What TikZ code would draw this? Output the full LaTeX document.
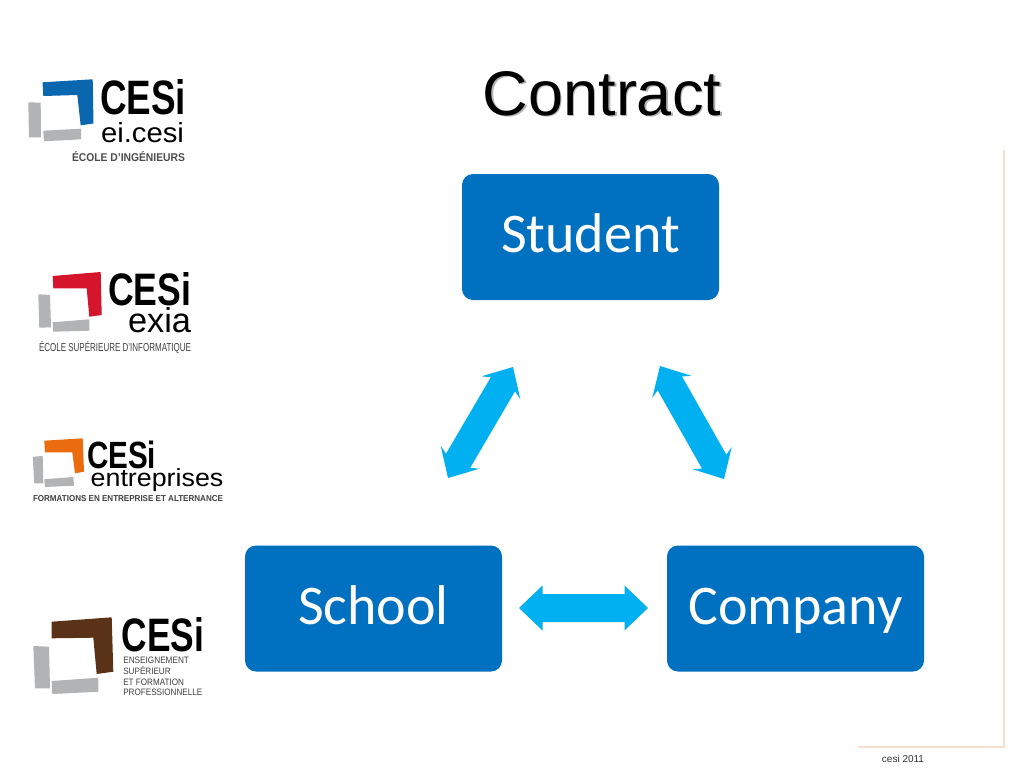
\documentclass[tikz,border=0pt]{standalone}
\usepackage{fontspec}
\usepackage{graphicx}
\setmainfont{Liberation Sans}
\newfontfamily\boxfont{Carlito}
\usetikzlibrary{calc}
\definecolor{boxblue}{HTML}{0070C0}
\definecolor{arrowblue}{HTML}{00B0F0}
\definecolor{framepeach}{HTML}{F8DFCB}
\definecolor{logogray}{HTML}{B2B3B5}
\definecolor{logoblue}{HTML}{0A66AE}
\definecolor{logored}{HTML}{D5152B}
\definecolor{logoorange}{HTML}{EA6C0F}
\definecolor{logobrown}{HTML}{5A3217}
\tikzset{
  x=1pt,y=-1pt,
  bigbox/.style={fill=boxblue,rounded corners=11pt,minimum width=257pt,minimum height=126pt,
    inner sep=0pt,text=white,text height=39.5pt,text depth=8pt,font=\boxfont\fontsize{56}{60}\selectfont},
  titletext/.style={font=\fontsize{63}{70}\selectfont,inner sep=0pt,anchor=base},
  footertext/.style={font=\fontsize{10}{12}\selectfont,inner sep=0pt,text=black!80},
  logotext/.style={anchor=base west,inner sep=0pt,outer sep=0pt},
  graypiece/.style={fill=logogray},
  bidiarrow/.style={fill=arrowblue},
  frameline/.style={draw=framepeach,line width=1.6pt}
}
% \bidi{from}{to}{barb distance}{neck distance}
\newcommand{\bidi}[4]{%
  \path let \p1=($(#2)-(#1)$),\n1={atan2(\y1,\x1)},\n2={veclen(\x1,\y1)} in
    [shift={(#1)},rotate=\n1,bidiarrow]
    (0pt,0pt) -- (#3pt,22.5pt) -- (#4pt,14pt) -- (\n2-#4pt,14pt) -- (\n2-#3pt,22.5pt)
    -- (\n2,0pt) -- (\n2-#3pt,-22.5pt) -- (\n2-#4pt,-14pt) -- (#4pt,-14pt) -- (#3pt,-22.5pt) -- cycle;%
}
% \ltxt{name}{x}{baseline}{width}{height}{font}{text}
\newcommand{\ltxt}[7]{%
  \node[logotext] (#1) at (#2,#3) {\resizebox{#4pt}{#5pt}{#6#7}};%
}
\begin{document}
\begin{tikzpicture}
\useasboundingbox (0,0) rectangle (1024,768);
\fill[white] (0,0) rectangle (1024,768);

% frame
\coordinate (frameTop) at (1004,150);
\coordinate (frameCorner) at (1004,747);
\coordinate (frameEnd) at (858,747);
\draw[frameline] (frameTop) -- (frameCorner) -- (frameEnd);
\node[footertext] (footer) at (903,759) {cesi 2011};

% title
\node[titletext,text=black!30] (titleShadow) at (603.5,116.5) {Contract};
\node[titletext] (title) at (602,115) {Contract};

% boxes
\node[bigbox] (student) at (590.5,237) {Student};
\node[bigbox] (school) at (373.5,608.5) {School};
\node[bigbox] (company) at (795.5,608.5) {Company};

% arrows
\coordinate (a1) at (513,367);
\coordinate (a2) at (448,478);
\coordinate (b1) at (660,366);
\coordinate (b2) at (724,479);
\coordinate (c1) at (519,608);
\coordinate (c2) at (648,608);
\bidi{a1}{a2}{24}{20}
\bidi{b1}{b2}{24}{20}
\bidi{c1}{c2}{23.5}{23.5}

% logo 1
\fill[logoblue] (42.5,82.3) -- (92.7,79.3) -- (93.5,123.5) -- (80.7,125.3) -- (77.3,95) -- (43.3,96) -- cycle;
\fill[graypiece] (28.3,102.3) -- (40.7,102.7) -- (41,137.3) -- (29,137.3) -- cycle;
\fill[graypiece] (43.3,130.7) -- (81,128.7) -- (81,139.3) -- (44,141.3) -- cycle;
\ltxt{la}{100}{114.5}{86}{35}{\bfseries}{CESi}
\ltxt{lb}{101}{142}{83}{20}{}{ei.cesi}
\ltxt{lc}{72}{161}{113}{10}{\bfseries\color{black!70}}{ÉCOLE D'INGÉNIEURS}

% logo 2
\fill[logored] (52.7,276) -- (100.7,272) -- (101.7,315) -- (89.3,316.7) -- (86.7,288.3) -- (53.3,288.3) -- cycle;
\fill[graypiece] (38.3,294.3) -- (50,295) -- (51,327.3) -- (39.3,327.7) -- cycle;
\fill[graypiece] (52.7,322.3) -- (89.3,319.3) -- (89.3,330.7) -- (53.3,331.7) -- cycle;
\ltxt{ld}{108}{305}{83}{33}{\bfseries}{CESi}
\ltxt{le}{128}{332.5}{63}{25}{}{exia}
\ltxt{lf}{39}{351.5}{152}{10}{\color{black!75}}{ÉCOLE SUPÉRIEURE D'INFORMATIQUE}

% logo 3
\fill[logoorange] (44.3,440.7) -- (82.7,438.3) -- (84,471.7) -- (75,473.3) -- (72.3,452.3) -- (45,452.3) -- cycle;
\fill[graypiece] (32.7,456.7) -- (42.7,456) -- (43.3,483.3) -- (34.3,483.3) -- cycle;
\fill[graypiece] (44.3,479.3) -- (73.3,477) -- (74,485.7) -- (45,487) -- cycle;
\ltxt{lg}{87}{468}{69}{27.5}{\bfseries}{CESi}
\ltxt{lh}{90.7}{486.7}{132.6}{18}{}{entreprises}
\ltxt{li}{33}{501.5}{190}{6}{\bfseries\color{black!75}}{FORMATIONS EN ENTREPRISE ET ALTERNANCE}

% logo 4
\fill[logobrown] (51.7,621.7) -- (111.7,617.3) -- (113.3,671.7) -- (96.7,674) -- (93.3,637.7) -- (51.7,638.3) -- cycle;
\fill[graypiece] (33.3,646) -- (49,646.7) -- (50,688.3) -- (35,688.3) -- cycle;
\fill[graypiece] (51.7,681) -- (98.3,677.7) -- (98.3,691.7) -- (52.3,694) -- cycle;
\ltxt{lj}{121.7}{651.7}{82.5}{34}{\bfseries}{CESi}
\ltxt{lk}{123.3}{663.3}{65.7}{6.5}{\color{black!75}}{ENSEIGNEMENT}
\ltxt{ll}{123.3}{674}{47.4}{8}{\color{black!75}}{SUPÉRIEUR}
\ltxt{lm}{123.3}{685}{60.7}{6.5}{\color{black!75}}{ET FORMATION}
\ltxt{ln}{123.3}{695}{79}{6.5}{\color{black!75}}{PROFESSIONNELLE}
\end{tikzpicture}
\end{document}
